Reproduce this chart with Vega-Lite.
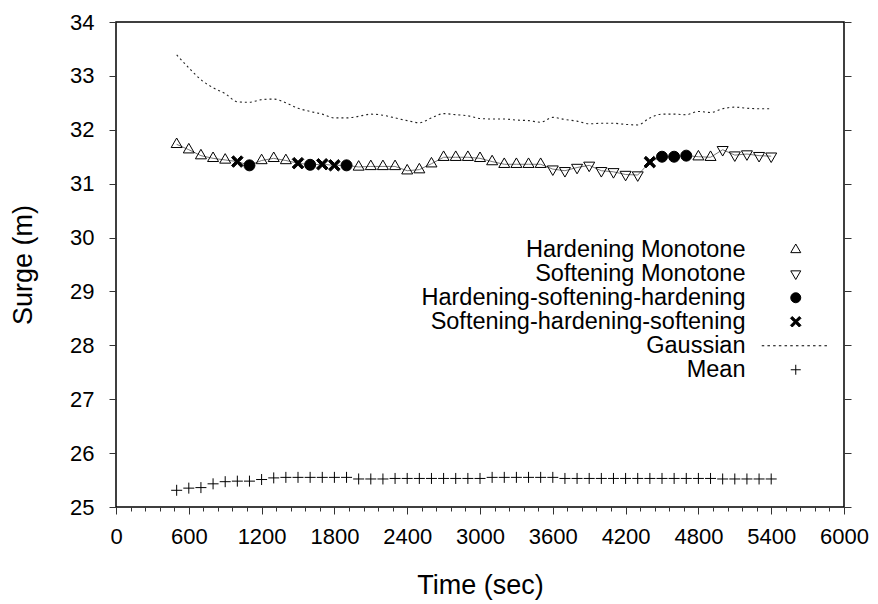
{
  "$schema": "https://vega.github.io/schema/vega-lite/v6.json",
  "width": 728,
  "height": 485,
  "autosize": "none",
  "padding": {"left": 116, "top": 22, "right": 34, "bottom": 97},
  "background": "white",
  "config": {
    "font": "Liberation Sans",
    "view": {"stroke": "black", "strokeWidth": 1.5},
    "axis": {"labelColor": "black", "titleColor": "black", "tickColor": "#333", "domainColor": "black", "grid": false, "titleFontWeight": "normal", "labelFont": "Liberation Sans", "titleFont": "Liberation Sans"},
    "legend": {"labelFont": "Liberation Sans"}
  },
  "datasets": {
    "markers": [
      {"t": 500, "v": 31.73, "s": "Hardening Monotone"},
      {"t": 600, "v": 31.63, "s": "Hardening Monotone"},
      {"t": 700, "v": 31.52, "s": "Hardening Monotone"},
      {"t": 800, "v": 31.47, "s": "Hardening Monotone"},
      {"t": 900, "v": 31.44, "s": "Hardening Monotone"},
      {"t": 1000, "v": 31.41, "s": "Softening-hardening-softening"},
      {"t": 1100, "v": 31.34, "s": "Hardening-softening-hardening"},
      {"t": 1200, "v": 31.43, "s": "Hardening Monotone"},
      {"t": 1300, "v": 31.47, "s": "Hardening Monotone"},
      {"t": 1400, "v": 31.43, "s": "Hardening Monotone"},
      {"t": 1500, "v": 31.38, "s": "Softening-hardening-softening"},
      {"t": 1600, "v": 31.35, "s": "Hardening-softening-hardening"},
      {"t": 1700, "v": 31.36, "s": "Softening-hardening-softening"},
      {"t": 1800, "v": 31.34, "s": "Softening-hardening-softening"},
      {"t": 1900, "v": 31.34, "s": "Hardening-softening-hardening"},
      {"t": 2000, "v": 31.31, "s": "Hardening Monotone"},
      {"t": 2100, "v": 31.32, "s": "Hardening Monotone"},
      {"t": 2200, "v": 31.32, "s": "Hardening Monotone"},
      {"t": 2300, "v": 31.32, "s": "Hardening Monotone"},
      {"t": 2400, "v": 31.24, "s": "Hardening Monotone"},
      {"t": 2500, "v": 31.26, "s": "Hardening Monotone"},
      {"t": 2600, "v": 31.37, "s": "Hardening Monotone"},
      {"t": 2700, "v": 31.49, "s": "Hardening Monotone"},
      {"t": 2800, "v": 31.49, "s": "Hardening Monotone"},
      {"t": 2900, "v": 31.49, "s": "Hardening Monotone"},
      {"t": 3000, "v": 31.47, "s": "Hardening Monotone"},
      {"t": 3100, "v": 31.41, "s": "Hardening Monotone"},
      {"t": 3200, "v": 31.36, "s": "Hardening Monotone"},
      {"t": 3300, "v": 31.36, "s": "Hardening Monotone"},
      {"t": 3400, "v": 31.36, "s": "Hardening Monotone"},
      {"t": 3500, "v": 31.36, "s": "Hardening Monotone"},
      {"t": 3600, "v": 31.27, "s": "Softening Monotone"},
      {"t": 3700, "v": 31.24, "s": "Softening Monotone"},
      {"t": 3800, "v": 31.30, "s": "Softening Monotone"},
      {"t": 3900, "v": 31.34, "s": "Softening Monotone"},
      {"t": 4000, "v": 31.24, "s": "Softening Monotone"},
      {"t": 4100, "v": 31.22, "s": "Softening Monotone"},
      {"t": 4200, "v": 31.17, "s": "Softening Monotone"},
      {"t": 4300, "v": 31.16, "s": "Softening Monotone"},
      {"t": 4400, "v": 31.40, "s": "Softening-hardening-softening"},
      {"t": 4500, "v": 31.50, "s": "Hardening-softening-hardening"},
      {"t": 4600, "v": 31.50, "s": "Hardening-softening-hardening"},
      {"t": 4700, "v": 31.52, "s": "Hardening-softening-hardening"},
      {"t": 4800, "v": 31.50, "s": "Hardening Monotone"},
      {"t": 4900, "v": 31.49, "s": "Hardening Monotone"},
      {"t": 5000, "v": 31.63, "s": "Softening Monotone"},
      {"t": 5100, "v": 31.53, "s": "Softening Monotone"},
      {"t": 5200, "v": 31.55, "s": "Softening Monotone"},
      {"t": 5300, "v": 31.52, "s": "Softening Monotone"},
      {"t": 5400, "v": 31.51, "s": "Softening Monotone"},
      {"t": 500, "v": 25.31, "s": "Mean"},
      {"t": 600, "v": 25.35, "s": "Mean"},
      {"t": 700, "v": 25.36, "s": "Mean"},
      {"t": 800, "v": 25.43, "s": "Mean"},
      {"t": 900, "v": 25.47, "s": "Mean"},
      {"t": 1000, "v": 25.48, "s": "Mean"},
      {"t": 1100, "v": 25.48, "s": "Mean"},
      {"t": 1200, "v": 25.51, "s": "Mean"},
      {"t": 1300, "v": 25.54, "s": "Mean"},
      {"t": 1400, "v": 25.55, "s": "Mean"},
      {"t": 1500, "v": 25.55, "s": "Mean"},
      {"t": 1600, "v": 25.55, "s": "Mean"},
      {"t": 1700, "v": 25.55, "s": "Mean"},
      {"t": 1800, "v": 25.55, "s": "Mean"},
      {"t": 1900, "v": 25.55, "s": "Mean"},
      {"t": 2000, "v": 25.52, "s": "Mean"},
      {"t": 2100, "v": 25.52, "s": "Mean"},
      {"t": 2200, "v": 25.52, "s": "Mean"},
      {"t": 2300, "v": 25.53, "s": "Mean"},
      {"t": 2400, "v": 25.53, "s": "Mean"},
      {"t": 2500, "v": 25.53, "s": "Mean"},
      {"t": 2600, "v": 25.53, "s": "Mean"},
      {"t": 2700, "v": 25.53, "s": "Mean"},
      {"t": 2800, "v": 25.53, "s": "Mean"},
      {"t": 2900, "v": 25.53, "s": "Mean"},
      {"t": 3000, "v": 25.53, "s": "Mean"},
      {"t": 3100, "v": 25.55, "s": "Mean"},
      {"t": 3200, "v": 25.55, "s": "Mean"},
      {"t": 3300, "v": 25.55, "s": "Mean"},
      {"t": 3400, "v": 25.55, "s": "Mean"},
      {"t": 3500, "v": 25.55, "s": "Mean"},
      {"t": 3600, "v": 25.55, "s": "Mean"},
      {"t": 3700, "v": 25.53, "s": "Mean"},
      {"t": 3800, "v": 25.53, "s": "Mean"},
      {"t": 3900, "v": 25.53, "s": "Mean"},
      {"t": 4000, "v": 25.53, "s": "Mean"},
      {"t": 4100, "v": 25.53, "s": "Mean"},
      {"t": 4200, "v": 25.53, "s": "Mean"},
      {"t": 4300, "v": 25.53, "s": "Mean"},
      {"t": 4400, "v": 25.53, "s": "Mean"},
      {"t": 4500, "v": 25.53, "s": "Mean"},
      {"t": 4600, "v": 25.53, "s": "Mean"},
      {"t": 4700, "v": 25.53, "s": "Mean"},
      {"t": 4800, "v": 25.53, "s": "Mean"},
      {"t": 4900, "v": 25.53, "s": "Mean"},
      {"t": 5000, "v": 25.52, "s": "Mean"},
      {"t": 5100, "v": 25.52, "s": "Mean"},
      {"t": 5200, "v": 25.52, "s": "Mean"},
      {"t": 5300, "v": 25.52, "s": "Mean"},
      {"t": 5400, "v": 25.52, "s": "Mean"}
    ],
    "gauss": [
      {"t": 500, "v": 33.39}, {"t": 600, "v": 33.15}, {"t": 700, "v": 32.93}, {"t": 800, "v": 32.78},
      {"t": 900, "v": 32.67}, {"t": 1000, "v": 32.52}, {"t": 1100, "v": 32.51}, {"t": 1200, "v": 32.56},
      {"t": 1300, "v": 32.57}, {"t": 1400, "v": 32.50}, {"t": 1500, "v": 32.40}, {"t": 1600, "v": 32.34},
      {"t": 1700, "v": 32.29}, {"t": 1800, "v": 32.22}, {"t": 1900, "v": 32.22}, {"t": 2000, "v": 32.25},
      {"t": 2100, "v": 32.29}, {"t": 2200, "v": 32.27}, {"t": 2300, "v": 32.22}, {"t": 2400, "v": 32.17},
      {"t": 2500, "v": 32.13}, {"t": 2600, "v": 32.22}, {"t": 2700, "v": 32.30}, {"t": 2800, "v": 32.28},
      {"t": 2900, "v": 32.26}, {"t": 3000, "v": 32.21}, {"t": 3100, "v": 32.20}, {"t": 3200, "v": 32.20},
      {"t": 3300, "v": 32.18}, {"t": 3400, "v": 32.17}, {"t": 3500, "v": 32.14}, {"t": 3600, "v": 32.23},
      {"t": 3700, "v": 32.19}, {"t": 3800, "v": 32.16}, {"t": 3900, "v": 32.11}, {"t": 4000, "v": 32.12},
      {"t": 4100, "v": 32.12}, {"t": 4200, "v": 32.10}, {"t": 4300, "v": 32.09}, {"t": 4400, "v": 32.22},
      {"t": 4500, "v": 32.29}, {"t": 4600, "v": 32.29}, {"t": 4700, "v": 32.28}, {"t": 4800, "v": 32.34},
      {"t": 4900, "v": 32.32}, {"t": 5000, "v": 32.39}, {"t": 5100, "v": 32.42}, {"t": 5200, "v": 32.40},
      {"t": 5300, "v": 32.39}, {"t": 5400, "v": 32.39}
    ]
  },
  "layer": [
    {
      "data": {"name": "gauss"},
      "mark": {"type": "line", "color": "#222", "strokeWidth": 1.1, "strokeDash": [2, 3], "interpolate": "monotone"},
      "encoding": {
        "x": {"field": "t", "type": "quantitative", "scale": {"domain": [0, 6000], "nice": false},
          "axis": {"orient": "bottom", "title": "Time (sec)", "format": "d", "values": [0, 600, 1200, 1800, 2400, 3000, 3600, 4200, 4800, 5400, 6000], "tickSize": 7, "labelFontSize": 22, "labelPadding": 12, "titleFontSize": 27, "titlePadding": 25, "domain": false, "labelFlush": false}},
        "y": {"field": "v", "type": "quantitative", "scale": {"domain": [25, 34], "nice": false, "zero": false},
          "axis": {"orient": "left", "title": "Surge (m)", "format": "d", "values": [25, 26, 27, 28, 29, 30, 31, 32, 33, 34], "tickSize": 7, "labelFontSize": 22, "labelPadding": 15, "titleFontSize": 27, "titlePadding": 32, "domain": false, "labelFlush": false}}
      }
    },
    {
      "data": {"name": "markers"},
      "transform": [{"filter": "datum.s !== 'Mean'"}],
      "mark": {"type": "line", "color": "#777", "strokeWidth": 1},
      "encoding": {
        "x": {"field": "t", "type": "quantitative", "axis": null},
        "y": {"field": "v", "type": "quantitative", "axis": null}
      }
    },
    {
      "data": {"name": "markers"},
      "mark": {"type": "point", "stroke": "black", "strokeWidth": 1, "size": 121, "opacity": 1},
      "encoding": {
        "x": {"field": "t", "type": "quantitative",
          "axis": {"orient": "bottom", "title": null, "values": [0,120,240,360,480,600,720,840,960,1080,1200,1320,1440,1560,1680,1800,1920,2040,2160,2280,2400,2520,2640,2760,2880,3000,3120,3240,3360,3480,3600,3720,3840,3960,4080,4200,4320,4440,4560,4680,4800,4920,5040,5160,5280,5400,5520,5640,5760,5880,6000], "tickSize": 4, "labels": false, "domain": false}},
        "y": {"field": "v", "type": "quantitative",
          "axis": {"orient": "right", "title": null, "values": [25, 26, 27, 28, 29, 30, 31, 32, 33, 34], "tickSize": 7, "labels": false, "domain": false}},
        "shape": {"field": "s", "type": "nominal",
          "scale": {"domain": ["Hardening Monotone", "Softening Monotone", "Hardening-softening-hardening", "Softening-hardening-softening", "Gaussian", "Mean"],
            "range": ["M0,-1.15L-1,0.58L1,0.58Z", "M0,1.15L-1,-0.58L1,-0.58Z", "circle", "M-1.05,-0.7L-0.7,-1.05L0,-0.35L0.7,-1.05L1.05,-0.7L0.35,0L1.05,0.7L0.7,1.05L0,0.35L-0.7,1.05L-1.05,0.7L-0.35,0Z", "M-6.8,0h0.5M-5.66,0h0.5M-4.52,0h0.5M-3.38,0h0.5M-2.24,0h0.5M-1.1,0h0.5M0.04,0h0.5M1.18,0h0.5M2.32,0h0.5M3.46,0h0.5M4.6,0h0.5M5.74,0h0.5", "M-1,0H1M0,-1V1"]},
          "legend": {"title": null, "orient": "none", "legendX": 668, "legendY": 216, "direction": "vertical", "labelAlign": "right", "labelOffset": -62, "labelFontSize": 23.5, "labelColor": "black", "symbolSize": 100, "symbolStrokeColor": "black", "symbolStrokeWidth": 1, "symbolOpacity": 1, "padding": 0, "rowPadding": -1, "labelLimit": 500,
            "encode": {"symbols": {"update": {"stroke": {"value": "black"}, "strokeWidth": {"value": 1}, "opacity": {"value": 1}}}}}},
        "fill": {"field": "s", "type": "nominal",
          "scale": {"domain": ["Hardening Monotone", "Softening Monotone", "Hardening-softening-hardening", "Softening-hardening-softening", "Gaussian", "Mean"],
            "range": ["transparent", "transparent", "black", "black", "transparent", "transparent"]},
          "legend": {"title": null, "orient": "none", "legendX": 668, "legendY": 216, "direction": "vertical", "labelAlign": "right", "labelOffset": -62, "labelFontSize": 23.5, "labelColor": "black", "symbolSize": 100, "symbolStrokeColor": "black", "symbolStrokeWidth": 1, "symbolOpacity": 1, "padding": 0, "rowPadding": -1, "labelLimit": 500,
            "encode": {"symbols": {"update": {"stroke": {"value": "black"}, "strokeWidth": {"value": 1}, "opacity": {"value": 1}}}}}}
      }
    }
  ],
  "resolve": {"scale": {"x": "shared", "y": "shared"}, "axis": {"x": "independent", "y": "independent"}}
}
